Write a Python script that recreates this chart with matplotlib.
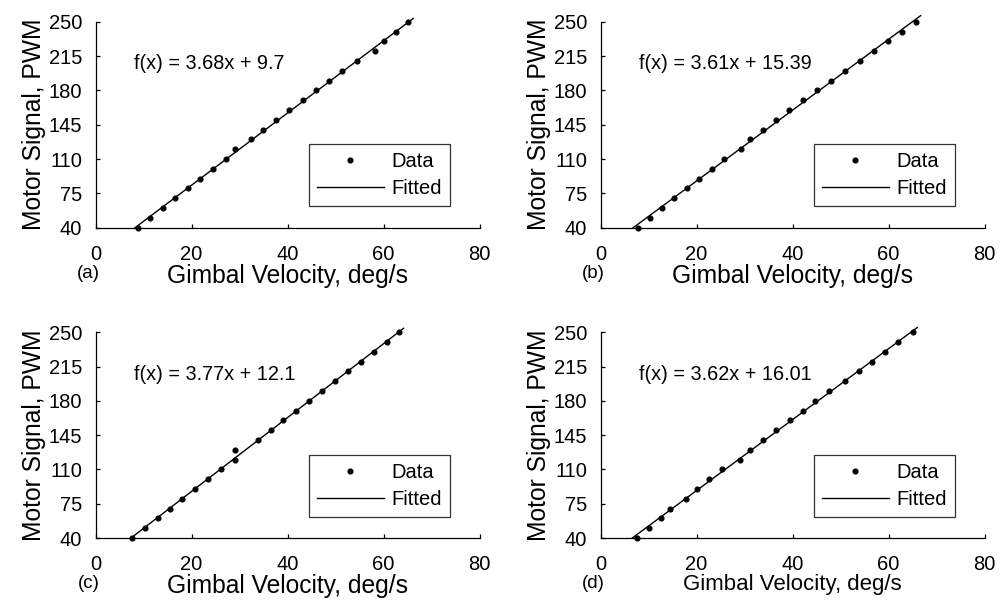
import matplotlib
matplotlib.use("Agg")
import matplotlib.pyplot as plt
import numpy as np

plt.rcParams['font.family'] = ['Liberation Sans', 'DejaVu Sans']

# ---- data ----
y_pwm = [40, 50, 60, 70, 80, 90, 100, 110, 120, 130, 140, 150, 160, 170, 180,
         190, 200, 210, 220, 230, 240, 250]

x_a = [8.75, 11.3, 13.96, 16.5, 19.2, 21.7, 24.4, 27.1, 29.1, 32.3, 34.9, 37.7,
       40.4, 43.25, 45.96, 48.7, 51.4, 54.5, 58.2, 60.1, 62.6, 65.2]
x_b = [7.75, 10.3, 12.8, 15.4, 18.0, 20.6, 23.2, 25.7, 29.2, 31.1, 33.8, 36.6,
       39.3, 42.25, 45.2, 48.0, 50.9, 54.0, 56.9, 59.96, 62.9, 65.7]
x_c = [7.67, 10.3, 12.96, 15.46, 18.0, 20.8, 23.4, 26.1, 29.1, 29.1, 33.85, 36.6,
       39.1, 41.8, 44.5, 47.1, 49.8, 52.5, 55.3, 58.1, 60.7, 63.2]
x_d = [7.54, 10.2, 12.7, 14.5, 17.75, 20.0, 22.6, 25.3, 29.1, 31.2, 33.9, 36.6,
       39.5, 42.2, 44.75, 47.5, 50.9, 53.9, 56.6, 59.3, 61.9, 65.0]

slopes = [3.68, 3.61, 3.77, 3.62]
intercepts = [9.7, 15.39, 12.1, 16.01]
fit_labels = ["f(x) = 3.68x + 9.7", "f(x) = 3.61x + 15.39",
              "f(x) = 3.77x + 12.1", "f(x) = 3.62x + 16.01"]
panel_tags = ["(a)", "(b)", "(c)", "(d)"]
x_ticks = [0, 20, 40, 60, 80]
y_ticks = [40, 75, 110, 145, 180, 215, 250]
xlabel = "Gimbal Velocity, deg/s"
ylabel = "Motor Signal, PWM"

fig = plt.figure(figsize=(10.05, 6.08), dpi=100)
W, H = 1005, 608

# axes rectangles in pixels: left, right, top, bottom
rects = [(95.5, 479.5, 21.7, 227.7), (600.5, 984.5, 21.7, 227.7),
         (95.5, 479.5, 332.3, 538.0), (600.5, 984.5, 332.3, 538.0)]
xs_all = [x_a, x_b, x_c, x_d]
xlabel_sizes = [17.7, 17.7, 17.7, 16]

for i in range(4):
    l, r, t, b = rects[i]
    ax = fig.add_axes([l / W, (H - b) / H, (r - l) / W, (b - t) / H])
    xs = np.array(xs_all[i])
    ys = np.array(y_pwm)
    m, c = slopes[i], intercepts[i]
    ax.set_xlim(0, 80)
    ax.set_ylim(40, 250)
    x0 = (40 - c) / m
    xl = np.array([x0, xs.max() + 1.0])
    ax.plot(xs, ys, 'o', color='black', markersize=3.4, clip_on=False,
            label='Data', zorder=3)
    ax.plot(xl, m * xl + c, '-', color='black', linewidth=1.0, clip_on=False,
            label='Fitted')
    for s in ['top', 'right']:
        ax.spines[s].set_visible(False)
    for s in ['left', 'bottom']:
        ax.spines[s].set_linewidth(0.9)
    ax.set_xticks(x_ticks)
    ax.set_yticks(y_ticks)
    ax.tick_params(axis='both', direction='in', length=3.2, width=0.9,
                   labelsize=14.5, color='black')
    ax.tick_params(axis='x', pad=12.5)
    ax.tick_params(axis='y', pad=9.5)
    ax.set_xlabel(xlabel, fontsize=xlabel_sizes[i], labelpad=0)
    ax.set_ylabel(ylabel, fontsize=17.7, labelpad=2)
    ax.text(0.101, 0.795, fit_labels[i], transform=ax.transAxes,
            fontsize=14.3, va='center', ha='left')
    ax.text(-0.018, -0.222, panel_tags[i], transform=ax.transAxes,
            fontsize=13.5, va='center', ha='center')
    leg = ax.legend(loc='upper left', bbox_to_anchor=(0.556, 0.405),
                    borderaxespad=0, fontsize=14.5, frameon=True,
                    fancybox=False, edgecolor='black', handlelength=3.3,
                    handletextpad=0.4, borderpad=0.4, labelspacing=0.4)
    leg.get_frame().set_linewidth(0.9)

fig.savefig("out.png", dpi=100)
